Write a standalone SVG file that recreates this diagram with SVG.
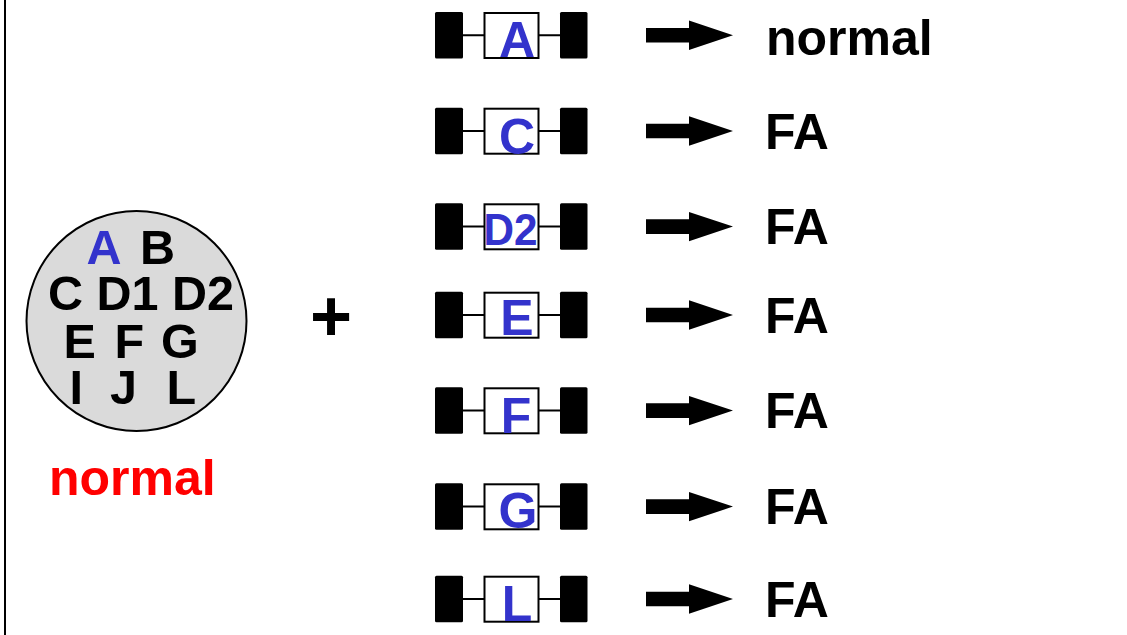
<svg xmlns="http://www.w3.org/2000/svg" xmlns:xlink="http://www.w3.org/1999/xlink" width="1127" height="635" viewBox="0 0 1127 635">
<style>
  .t{font-family:"Liberation Sans",Arial,sans-serif;font-weight:bold}
  .blk{fill:#000}
  .box{fill:#fff;stroke:#000;stroke-width:2}
  .ln{stroke:#000;stroke-width:2}
  .blue{fill:#3333cc}
  .res{font-size:50px;fill:#000}
  .cl{font-size:50px;text-anchor:middle}
</style>
<defs>
  <polygon id="arr" points="0,-7.3 43,-7.3 43,-14.7 87,0 43,14.7 43,7.3 0,7.3" fill="#000"/>
  <g id="dev">
    <rect class="blk" x="435" y="0" width="28" height="46.5" rx="1.5"/>
    <rect class="box" x="484.5" y="1" width="54" height="45"/>
    <rect class="blk" x="560" y="0" width="27.5" height="46.5" rx="1.5"/>
  </g>
</defs>
<rect width="1127" height="635" fill="#fff"/>
<line x1="5" y1="0" x2="5" y2="635" stroke="#000" stroke-width="2"/>

<g id="cell">
  <circle cx="136.5" cy="321" r="110" fill="#dadada" stroke="#000" stroke-width="2"/>
  <text class="t" font-size="48.5"><tspan class="blue" x="86.5" y="264">A</tspan><tspan x="140" y="264">B</tspan><tspan x="48" y="310">C D1 D2</tspan><tspan x="63.5" y="358">E</tspan><tspan x="114.5" y="358">F</tspan><tspan x="161" y="358">G</tspan><tspan x="69.5" y="404">I</tspan><tspan x="110" y="404">J</tspan><tspan x="166.5" y="404">L</tspan></text>
  <text class="t" font-size="50" x="49" y="495" fill="#ff0000">normal</text>
</g>

<g id="plus"><text class="t" font-size="72" x="331" y="341" text-anchor="middle">+</text></g>

<g id="row-A" transform="translate(0,12)"><use xlink:href="#dev"/><text class="t cl blue" x="517" y="45">A</text></g>
<g id="row-C" transform="translate(0,107.7)"><use xlink:href="#dev"/><text class="t cl blue" x="517" y="46">C</text></g>
<g id="row-D2" transform="translate(0,203.3)"><use xlink:href="#dev"/><text class="t blue" font-size="45" x="483.5" y="42" textLength="54" lengthAdjust="spacingAndGlyphs">D2</text></g>
<g id="row-E" transform="translate(0,291.7)"><use xlink:href="#dev"/><text class="t cl blue" x="517" y="43.5">E</text></g>
<g id="row-F" transform="translate(0,387.3)"><use xlink:href="#dev"/><text class="t cl blue" x="516" y="45.5">F</text></g>
<g id="row-G" transform="translate(0,483.3)"><use xlink:href="#dev"/><text class="t cl blue" x="518" y="45">G</text></g>
<g id="row-L" transform="translate(0,575.7)"><use xlink:href="#dev"/><text class="t cl blue" x="517" y="45.5">L</text></g>

<g id="connectors">
  <path class="ln" d="M463,35.3H484.5M538.5,35.3H560M463,131H484.5M538.5,131H560M463,226.6H484.5M538.5,226.6H560M463,315H484.5M538.5,315H560M463,410.6H484.5M538.5,410.6H560M463,506.6H484.5M538.5,506.6H560M463,599H484.5M538.5,599H560"/>
  <use xlink:href="#arr" x="646" y="35.3"/>
  <use xlink:href="#arr" x="646" y="131"/>
  <use xlink:href="#arr" x="646" y="226.6"/>
  <use xlink:href="#arr" x="646" y="315"/>
  <use xlink:href="#arr" x="646" y="410.6"/>
  <use xlink:href="#arr" x="646" y="506.6"/>
  <use xlink:href="#arr" x="646" y="599"/>
</g>

<g id="results">
  <text class="t" font-size="50" x="766" y="55">normal</text>
  <text class="t res" x="765" y="148.5">FA</text>
  <text class="t res" x="765" y="244">FA</text>
  <text class="t res" x="765" y="332.5">FA</text>
  <text class="t res" x="765" y="428">FA</text>
  <text class="t res" x="765" y="524">FA</text>
  <text class="t res" x="765" y="616.5">FA</text>
</g>
</svg>
